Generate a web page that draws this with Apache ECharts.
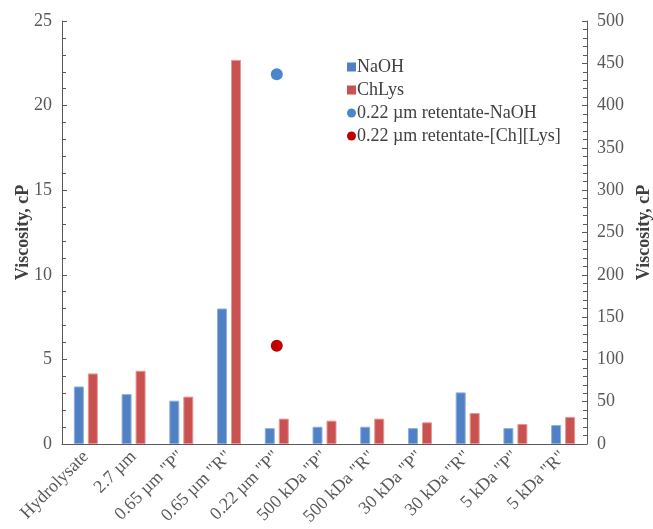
<!DOCTYPE html>
<html>
<head>
<meta charset="utf-8">
<script src="https://cdn.jsdelivr.net/npm/echarts@6/dist/echarts.min.js"></script>
<style>
  html, body { margin: 0; padding: 0; background: #fff; }
</style>
</head>
<body>
<div id="main" style="width: 653px; height: 529px;"></div>
<script>
// categories (x axis)
const categories = ['Hydrolysate', '2.7 µm', '0.65 µm "P"', '0.65 µm "R"', '0.22 µm "P"',
  '500 kDa "P"', '500 kDa "R"', '30 kDa "P"', '30 kDa "R"', '5 kDa "P"', '5 kDa "R"'];
// bar values, left axis (cP)
const naohValues = [3.40, 2.95, 2.56, 8.01, 0.94, 1.02, 1.02, 0.94, 3.05, 0.94, 1.12];
const chlysValues = [4.17, 4.33, 2.80, 22.7, 1.50, 1.38, 1.50, 1.28, 1.83, 1.18, 1.60];
// retentate points, right axis (cP)
const retentateNaoh = [['0.22 µm "P"', 437]];
const retentateChLys = [['0.22 µm "P"', 116]];

const font = 'Liberation Serif, Times New Roman, serif';
const grey = '#595959';

const myChart = echarts.init(document.getElementById('main'));
const option = {
  animation: false,
  textStyle: { fontFamily: font },
  grid: { left: 62, right: 66, top: 21, bottom: 85, outerBoundsMode: 'none' },
  legend: {
    orient: 'vertical',
    left: 342,
    top: 53,
    itemWidth: 9,
    itemHeight: 9,
    itemGap: 5,
    itemStyle: { borderWidth: 0 },
    textStyle: { fontFamily: font, fontSize: 18, color: '#404040', padding: [0, 0, 0, -4] },
    data: [
      { name: 'NaOH', icon: 'rect' },
      { name: 'ChLys', icon: 'rect' },
      { name: '0.22 µm retentate-NaOH', icon: 'circle' },
      { name: '0.22 µm retentate-[Ch][Lys]', icon: 'circle' }
    ]
  },
  xAxis: {
    type: 'category',
    data: categories,
    axisLine: { lineStyle: { color: grey } },
    axisTick: { show: false },
    axisLabel: { rotate: 45, interval: 0, fontFamily: font, fontSize: 18, color: grey, margin: 10 }
  },
  yAxis: [
    {
      type: 'value',
      min: 0, max: 25, interval: 5,
      name: 'Viscosity, cP',
      nameLocation: 'middle',
      nameGap: 30,
      nameMoveOverlap: false,
      nameTextStyle: { fontFamily: font, fontSize: 18, fontWeight: 'bold', color: '#404040' },
      axisLine: { show: true, lineStyle: { color: grey } },
      axisTick: { show: true, inside: true, length: 5, lineStyle: { color: grey } },
      minorTick: { show: true, splitNumber: 5, length: 4, lineStyle: { color: grey } },
      splitLine: { show: false },
      axisLabel: { fontFamily: font, fontSize: 18, color: grey, margin: 10 }
    },
    {
      type: 'value',
      min: 0, max: 500, interval: 50,
      name: 'Viscosity, cP',
      nameLocation: 'middle',
      nameGap: 48,
      nameMoveOverlap: false,
      nameTextStyle: { fontFamily: font, fontSize: 18, fontWeight: 'bold', color: '#404040' },
      axisLine: { show: true, lineStyle: { color: grey } },
      axisTick: { show: true, inside: true, length: 5, lineStyle: { color: grey } },
      minorTick: { show: true, splitNumber: 5, length: 4, lineStyle: { color: grey } },
      splitLine: { show: false },
      axisLabel: { fontFamily: font, fontSize: 18, color: grey, margin: 10 }
    }
  ],
  series: [
    {
      name: 'NaOH',
      type: 'bar',
      data: naohValues,
      barWidth: 10,
      barGap: '40%',
      itemStyle: { color: '#4F81C4', borderColor: '#8fb0dc', borderWidth: 1 }
    },
    {
      name: 'ChLys',
      type: 'bar',
      data: chlysValues,
      barWidth: 10,
      barGap: '40%',
      itemStyle: { color: '#C9514F', borderColor: '#e49896', borderWidth: 1 }
    },
    {
      name: '0.22 µm retentate-NaOH',
      type: 'scatter',
      yAxisIndex: 1,
      data: retentateNaoh,
      symbolSize: 12,
      itemStyle: { color: '#4A86CC', opacity: 1 }
    },
    {
      name: '0.22 µm retentate-[Ch][Lys]',
      type: 'scatter',
      yAxisIndex: 1,
      data: retentateChLys,
      symbolSize: 12,
      itemStyle: { color: '#C00000', opacity: 1 }
    }
  ]
};
myChart.setOption(option);
</script>
</body>
</html>
